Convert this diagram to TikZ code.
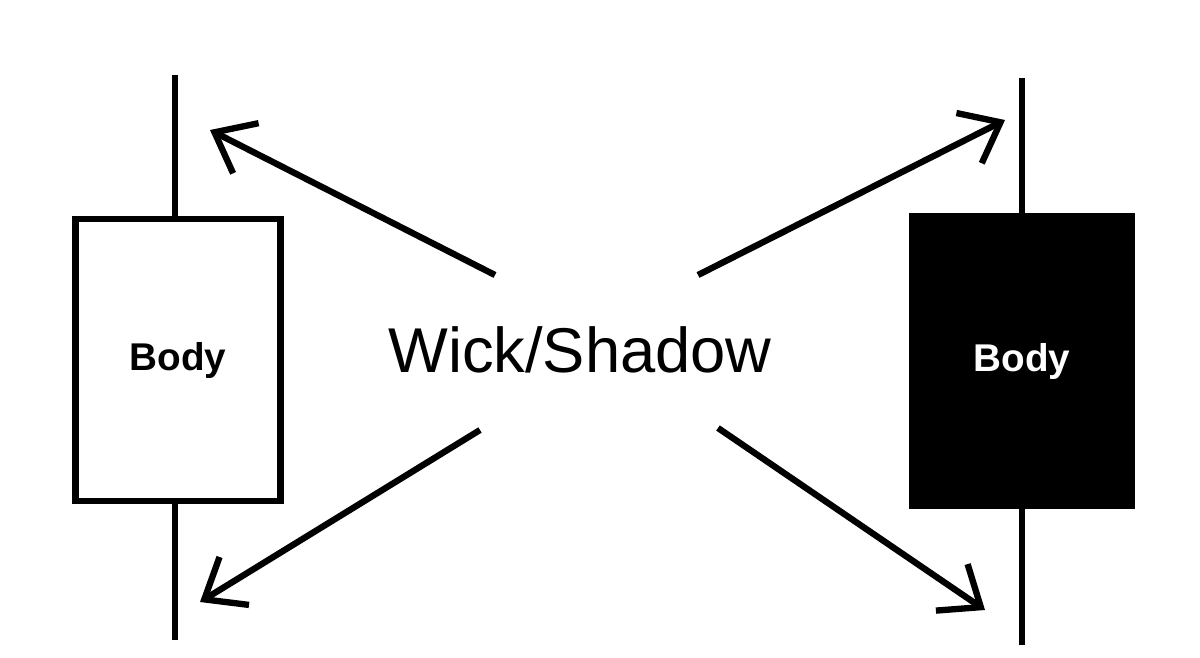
\documentclass[tikz,border=0pt]{standalone}
\usepackage{fontspec}
\setmainfont{Liberation Sans}
\usetikzlibrary{arrows.meta,positioning}

\begin{document}
\begin{tikzpicture}[
            x=0.01cm, y=-0.01cm,
            wick/.style={line width=1.8pt},
            body/.style={draw,line width=1.8pt,minimum width=2.05cm,minimum height=2.82cm,inner sep=0pt},
            pointer/.style={line width=1.8pt,-{Straight Barb[length=10pt,width=16pt,line width=1.8pt]}},
            bodytext/.style={font=\fontsize{11}{13}\selectfont\bfseries}
        ]
        \useasboundingbox (0,0) rectangle (1200,657);

        % Left candle %
        \coordinate (lt) at (175,75);
        \coordinate (lb) at (175,640);
        \draw[wick] (lt) -- (lb);
        \node[body,fill=white,bodytext] (lbody) at (178,360) {Body};

        % Right candle %
        \coordinate (rt) at (1022,78);
        \coordinate (rb) at (1022,645);
        \draw[wick] (rt) -- (rb);
        \node[body,fill=black,text=white,minimum width=2.2cm,minimum height=2.9cm,bodytext] (rbody) at (1022,361) {Body};

        % Label %
        \node[font=\fontsize{18}{21}\selectfont] (wick) at (580,350) {Wick/Shadow};

        % Draw arrows %
        \coordinate (a1) at (210,130);
        \coordinate (a2) at (1005,120);
        \coordinate (a3) at (200,602);
        \coordinate (a4) at (985,610);
        \draw[pointer] (495,275) -- (a1);
        \draw[pointer] (698,275) -- (a2);
        \draw[pointer] (480,430) -- (a3);
        \draw[pointer] (718,428) -- (a4);
\end{tikzpicture}
\end{document}
